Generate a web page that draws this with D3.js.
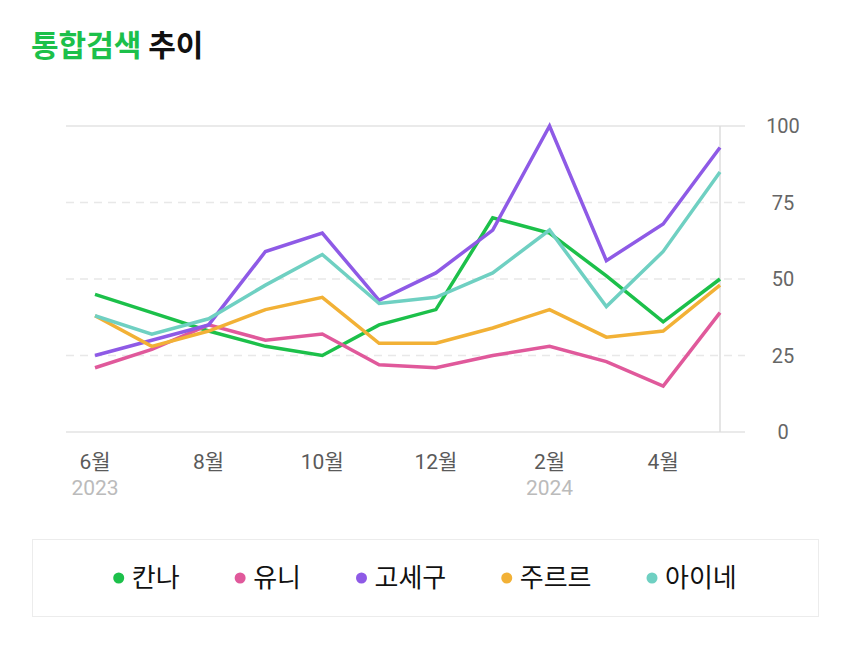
<!DOCTYPE html>
<html><head><meta charset="utf-8">
<script src="https://cdn.jsdelivr.net/npm/d3@7/dist/d3.min.js"></script>
<style>
body{margin:0;background:#fff;font-family:Roboto,"Noto Sans CJK KR",sans-serif;}
</style></head><body>
<svg id="c" width="850" height="649"></svg>
<script>
const months = ["6월","7월","8월","9월","10월","11월","12월","1월","2월","3월","4월","5월"];
const tickLabels = ["6월","8월","10월","12월","2월","4월"];
const yearLabels = {"6월":"2023","2월":"2024"};
const seriesNames = ["칸나","유니","고세구","주르르","아이네"];
const colors = ["#1cc04a","#e0599b","#8e5ae6","#f2b136","#6fd0c2"];
const kanna  = [45,39,33,28,25,35,40,70,65,51,36,50];
const yuni   = [21,27,35,30,32,22,21,25,28,23,15,39];
const gosegu = [25,30,35,59,65,43,52,66,100,56,68,93];
const jururu = [38,28,33,40,44,29,29,34,40,31,33,48];
const ine    = [38,32,37,48,58,42,44,52,66,41,59,85];
const yTicks = [0,25,50,75,100];
const series = [kanna,yuni,gosegu,jururu,ine];

const svg = d3.select("#c");
const x = d3.scalePoint().domain(months).range([95,720]);
const y = d3.scaleLinear().domain([0,100]).range([432,126]);

// title
const t = svg.append("text").attr("x",31).attr("y",56).attr("font-size",30).attr("font-weight",700)
  .attr("font-family","'Noto Sans CJK KR',sans-serif");
t.append("tspan").attr("fill","#1cc04a").text("통합검색");
t.append("tspan").attr("fill","#111").text(" 추이");

// grid
svg.append("g").selectAll("line").data(yTicks).join("line")
  .attr("x1",66).attr("x2",745).attr("y1",d=>y(d)).attr("y2",d=>y(d))
  .attr("stroke",d=>(d===0||d===100)?"#e3e3e3":"#e8e8e8")
  .attr("stroke-width",1.5)
  .attr("stroke-dasharray",d=>(d===0||d===100)?null:"8,6");
svg.append("line").attr("x1",x("5월")).attr("x2",x("5월")).attr("y1",y(100)).attr("y2",y(0))
  .attr("stroke","#dcdcdc").attr("stroke-width",1.5);

// y labels
svg.append("g").selectAll("text").data(yTicks).join("text")
  .attr("x",783).attr("y",d=>y(d)+7).attr("text-anchor","middle")
  .attr("font-size",20).attr("fill","#666").attr("font-family","Roboto,sans-serif").text(d=>d);

// x labels
svg.append("g").selectAll("text").data(tickLabels).join("text")
  .attr("x",d=>x(d)).attr("y",469).attr("text-anchor","middle")
  .attr("font-size",21).attr("fill","#5a5a5a").attr("font-family","Roboto,'Noto Sans CJK KR',sans-serif").text(d=>d);
svg.append("g").selectAll("text").data(Object.keys(yearLabels)).join("text")
  .attr("x",d=>x(d)).attr("y",495).attr("text-anchor","middle")
  .attr("font-size",21).attr("fill","#bbb").attr("font-family","Roboto,sans-serif").text(d=>yearLabels[d]);

// lines
const line = d3.line().x((d,i)=>x(months[i])).y(d=>y(d));
svg.append("g").selectAll("path").data(series).join("path")
  .attr("d",d=>line(d)).attr("fill","none")
  .attr("stroke",(d,i)=>colors[i]).attr("stroke-width",3.5)
  .attr("stroke-linejoin","miter").attr("stroke-linecap","butt");

// legend
svg.append("rect").attr("x",32.5).attr("y",539.5).attr("width",786).attr("height",77)
  .attr("fill","#fff").attr("stroke","#ececec").attr("stroke-width",1);
const lg = svg.append("g");
const items = lg.selectAll("g").data(seriesNames).join("g");
items.append("circle").attr("r",5.5).attr("cy",0).attr("fill",(d,i)=>colors[i]);
items.append("text").attr("x",13).attr("y",9).attr("font-size",26).attr("fill","#111")
  .attr("font-family","'Noto Sans CJK KR',sans-serif").text(d=>d);
let widths = [];
items.each(function(){ widths.push(this.getBBox().width); });
const gap = 55;
const total = d3.sum(widths) + gap*(widths.length-1);
let cx = 425 - total/2 + 5.5;
items.attr("transform",(d,i)=>{ const tx = cx; cx += widths[i]+gap; return `translate(${tx},578)`; });
</script>
</body></html>
